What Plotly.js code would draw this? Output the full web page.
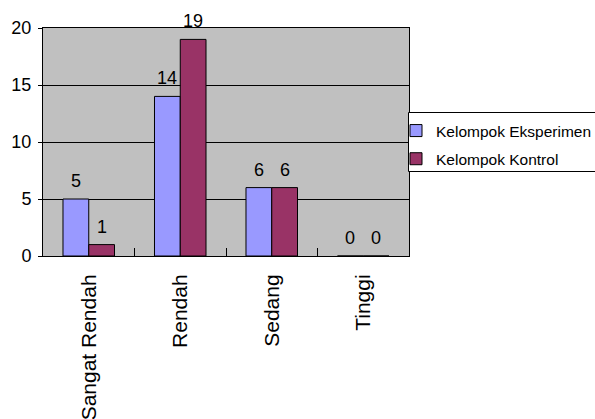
<!DOCTYPE html>
<html>
<head>
<meta charset="utf-8">
<script src="https://cdn.plot.ly/plotly-3.0.1.min.js"></script>
<style>html,body{margin:0;padding:0;background:#fff;}#chart{width:595px;height:419px;}</style>
</head>
<body>
<div id="chart"></div>
<script>
const categories = ["Sangat Rendah", "Rendah", "Sedang", "Tinggi"];
const seriesNames = ["Kelompok Eksperimen", "Kelompok Kontrol"];
const eksperimen = [5, 14, 6, 0];
const kontrol = [1, 19, 6, 0];
const yTicks = [0, 5, 10, 15, 20];

const font = "Liberation Sans, Arial, sans-serif";
const W = 595, H = 419;
const M = {l: 43, r: 186, t: 28, b: 163};
const plotW = W - M.l - M.r, plotH = H - M.t - M.b;
const bargap = 0.437;
const halfBar = plotW / categories.length * (1 - bargap) / 4;

function bar(name, values, color) {
  return {
    type: "bar", name: name, x: categories, y: values, legendgroup: name,
    marker: {color: color, line: {color: "#000", width: 1}},
    hoverinfo: "none"
  };
}
const series = [
  {name: seriesNames[0], values: eksperimen, color: "#9999ff"},
  {name: seriesNames[1], values: kontrol, color: "#993366"}
];
const data = series.map(s => bar(s.name, s.values, s.color));

const annotations = [];
series.forEach((s, i) => {
  s.values.forEach((v, j) => {
    annotations.push({
      x: categories[j], y: v, xref: "x", yref: "y",
      text: String(v), showarrow: false, yanchor: "bottom",
      xshift: (i === 0 ? -1 : 1) * halfBar, yshift: 6,
      font: {family: font, size: 18, color: "#000"}
    });
  });
});

const px2x = p => (p - M.l) / plotW;
const px2y = p => (H - M.b - p) / plotH;

const layout = {
  width: W, height: H,
  margin: {l: M.l, r: M.r, t: M.t, b: M.b, autoexpand: false},
  paper_bgcolor: "#fff", plot_bgcolor: "#c0c0c0",
  bargap: bargap, bargroupgap: 0,
  font: {family: font, color: "#000"},
  xaxis: {
    type: "category", tickangle: -90, tickson: "boundaries",
    ticks: "inside", ticklen: 8, tickcolor: "#000",
    showline: true, linecolor: "#000", mirror: true, linewidth: 1,
    tickfont: {size: 21, family: font}, ticklabelstandoff: 9
  },
  yaxis: {
    range: [0, 20], tickvals: yTicks, ticktext: yTicks.map(String),
    ticks: "outside", ticklen: 4, tickcolor: "#000",
    showgrid: true, gridcolor: "#000", gridwidth: 1,
    showline: true, linecolor: "#000", mirror: true, linewidth: 1,
    zeroline: false, tickfont: {size: 18, family: font}, ticklabelstandoff: 3
  },
  shapes: [{
    type: "rect", xref: "paper", yref: "paper",
    x0: px2x(408.5), x1: px2x(620), y0: px2y(171.5), y1: px2y(112.5),
    line: {color: "#000", width: 1}, fillcolor: "#fff", layer: "above"
  }],
  annotations: annotations,
  legend: {
    x: px2x(396), xanchor: "left", y: px2y(114), yanchor: "top",
    bgcolor: "rgba(0,0,0,0)", borderwidth: 0,
    font: {size: 15.5, family: font}, itemwidth: 30,
    traceorder: "grouped", tracegroupgap: 5
  },
  showlegend: true
};
Plotly.newPlot("chart", data, layout, {staticPlot: true});
</script>
</body>
</html>
